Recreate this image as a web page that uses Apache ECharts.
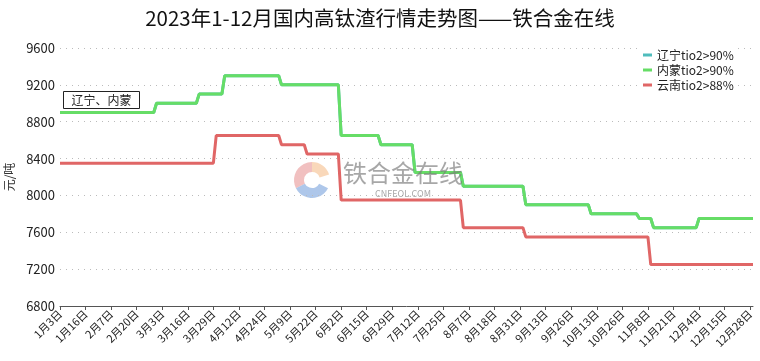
<!DOCTYPE html>
<html><head><meta charset="utf-8">
<script src="https://cdn.jsdelivr.net/npm/echarts@6/dist/echarts.min.js"></script>
<style>html,body{margin:0;padding:0;background:#fff}#c{width:760px;height:361px}</style>
</head><body><div id="c"></div>
<script>
const titleText = "2023年1-12月国内高钛渣行情走势图——铁合金在线";
const seriesNames = ["辽宁tio2>90%", "内蒙tio2>90%", "云南tio2>88%"];
const yTicks = [6800, 7200, 7600, 8000, 8400, 8800, 9200, 9600];
const dateRows = [
"1/3 1/4 1/5 1/6 1/9 1/10 1/11 1/12 1/13",
"1/16 1/17 1/18 1/19 1/20 1/31 2/1 2/2 2/3",
"2/7 2/8 2/9 2/10 2/13 2/14 2/15 2/16 2/17",
"2/20 2/21 2/22 2/23 2/24 2/27 2/28 3/1 3/2",
"3/3 3/6 3/7 3/8 3/9 3/10 3/13 3/14 3/15",
"3/16 3/17 3/20 3/21 3/22 3/23 3/24 3/27 3/28",
"3/29 3/30 3/31 4/3 4/4 4/6 4/7 4/10 4/11",
"4/12 4/13 4/14 4/17 4/18 4/19 4/20 4/21 4/23",
"4/24 4/25 4/26 4/27 4/28 5/4 5/5 5/6 5/8",
"5/9 5/10 5/11 5/12 5/15 5/16 5/17 5/18 5/19",
"5/22 5/23 5/24 5/25 5/26 5/29 5/30 5/31 6/1",
"6/2 6/5 6/6 6/7 6/8 6/9 6/12 6/13 6/14",
"6/15 6/16 6/19 6/20 6/21 6/25 6/26 6/27 6/28",
"6/29 6/30 7/3 7/4 7/5 7/6 7/7 7/10 7/11",
"7/12 7/13 7/14 7/17 7/18 7/19 7/20 7/21 7/24",
"7/25 7/26 7/27 7/28 7/31 8/1 8/2 8/3 8/4",
"8/7 8/8 8/9 8/10 8/11 8/14 8/15 8/16 8/17",
"8/18 8/21 8/22 8/23 8/24 8/25 8/28 8/29 8/30",
"8/31 9/1 9/4 9/5 9/6 9/7 9/8 9/11 9/12",
"9/13 9/14 9/15 9/18 9/19 9/20 9/21 9/22 9/25",
"9/26 9/27 9/28 10/7 10/8 10/9 10/10 10/11 10/12",
"10/13 10/16 10/17 10/18 10/19 10/20 10/23 10/24 10/25",
"10/26 10/27 10/30 10/31 11/1 11/2 11/3 11/6 11/7",
"11/8 11/9 11/10 11/13 11/14 11/15 11/16 11/17 11/20",
"11/21 11/22 11/23 11/24 11/27 11/28 11/29 11/30 12/1",
"12/4 12/5 12/6 12/7 12/8 12/11 12/12 12/13 12/14",
"12/15 12/18 12/19 12/20 12/21 12/22 12/25 12/26 12/27",
"12/28 12/29"
];
const liaoningValues = [
8900,8900,8900,8900,8900,8900,8900,8900,8900,
8900,8900,8900,8900,8900,8900,8900,8900,8900,
8900,8900,8900,8900,8900,8900,8900,8900,8900,
8900,8900,8900,8900,8900,8900,8900,9000,9000,
9000,9000,9000,9000,9000,9000,9000,9000,9000,
9000,9000,9000,9000,9100,9100,9100,9100,9100,
9100,9100,9100,9100,9300,9300,9300,9300,9300,
9300,9300,9300,9300,9300,9300,9300,9300,9300,
9300,9300,9300,9300,9300,9300,9200,9200,9200,
9200,9200,9200,9200,9200,9200,9200,9200,9200,
9200,9200,9200,9200,9200,9200,9200,9200,9200,
8650,8650,8650,8650,8650,8650,8650,8650,8650,
8650,8650,8650,8650,8650,8550,8550,8550,8550,
8550,8550,8550,8550,8550,8550,8550,8550,8250,
8250,8250,8250,8250,8250,8250,8250,8250,8250,
8250,8250,8250,8250,8250,8250,8250,8100,8100,
8100,8100,8100,8100,8100,8100,8100,8100,8100,
8100,8100,8100,8100,8100,8100,8100,8100,8100,
8100,8100,7900,7900,7900,7900,7900,7900,7900,
7900,7900,7900,7900,7900,7900,7900,7900,7900,
7900,7900,7900,7900,7900,7900,7900,7800,7800,
7800,7800,7800,7800,7800,7800,7800,7800,7800,
7800,7800,7800,7800,7800,7800,7750,7750,7750,
7750,7750,7650,7650,7650,7650,7650,7650,7650,
7650,7650,7650,7650,7650,7650,7650,7650,7650,
7750,7750,7750,7750,7750,7750,7750,7750,7750,
7750,7750,7750,7750,7750,7750,7750,7750,7750,
7750,7750
];
const neimengValues = [
8900,8900,8900,8900,8900,8900,8900,8900,8900,
8900,8900,8900,8900,8900,8900,8900,8900,8900,
8900,8900,8900,8900,8900,8900,8900,8900,8900,
8900,8900,8900,8900,8900,8900,8900,9000,9000,
9000,9000,9000,9000,9000,9000,9000,9000,9000,
9000,9000,9000,9000,9100,9100,9100,9100,9100,
9100,9100,9100,9100,9300,9300,9300,9300,9300,
9300,9300,9300,9300,9300,9300,9300,9300,9300,
9300,9300,9300,9300,9300,9300,9200,9200,9200,
9200,9200,9200,9200,9200,9200,9200,9200,9200,
9200,9200,9200,9200,9200,9200,9200,9200,9200,
8650,8650,8650,8650,8650,8650,8650,8650,8650,
8650,8650,8650,8650,8650,8550,8550,8550,8550,
8550,8550,8550,8550,8550,8550,8550,8550,8250,
8250,8250,8250,8250,8250,8250,8250,8250,8250,
8250,8250,8250,8250,8250,8250,8250,8100,8100,
8100,8100,8100,8100,8100,8100,8100,8100,8100,
8100,8100,8100,8100,8100,8100,8100,8100,8100,
8100,8100,7900,7900,7900,7900,7900,7900,7900,
7900,7900,7900,7900,7900,7900,7900,7900,7900,
7900,7900,7900,7900,7900,7900,7900,7800,7800,
7800,7800,7800,7800,7800,7800,7800,7800,7800,
7800,7800,7800,7800,7800,7800,7750,7750,7750,
7750,7750,7650,7650,7650,7650,7650,7650,7650,
7650,7650,7650,7650,7650,7650,7650,7650,7650,
7750,7750,7750,7750,7750,7750,7750,7750,7750,
7750,7750,7750,7750,7750,7750,7750,7750,7750,
7750,7750
];
const yunnanValues = [
8350,8350,8350,8350,8350,8350,8350,8350,8350,
8350,8350,8350,8350,8350,8350,8350,8350,8350,
8350,8350,8350,8350,8350,8350,8350,8350,8350,
8350,8350,8350,8350,8350,8350,8350,8350,8350,
8350,8350,8350,8350,8350,8350,8350,8350,8350,
8350,8350,8350,8350,8350,8350,8350,8350,8350,
8350,8650,8650,8650,8650,8650,8650,8650,8650,
8650,8650,8650,8650,8650,8650,8650,8650,8650,
8650,8650,8650,8650,8650,8650,8550,8550,8550,
8550,8550,8550,8550,8550,8550,8450,8450,8450,
8450,8450,8450,8450,8450,8450,8450,8450,8450,
7950,7950,7950,7950,7950,7950,7950,7950,7950,
7950,7950,7950,7950,7950,7950,7950,7950,7950,
7950,7950,7950,7950,7950,7950,7950,7950,7950,
7950,7950,7950,7950,7950,7950,7950,7950,7950,
7950,7950,7950,7950,7950,7950,7950,7650,7650,
7650,7650,7650,7650,7650,7650,7650,7650,7650,
7650,7650,7650,7650,7650,7650,7650,7650,7650,
7650,7650,7550,7550,7550,7550,7550,7550,7550,
7550,7550,7550,7550,7550,7550,7550,7550,7550,
7550,7550,7550,7550,7550,7550,7550,7550,7550,
7550,7550,7550,7550,7550,7550,7550,7550,7550,
7550,7550,7550,7550,7550,7550,7550,7550,7550,
7550,7250,7250,7250,7250,7250,7250,7250,7250,
7250,7250,7250,7250,7250,7250,7250,7250,7250,
7250,7250,7250,7250,7250,7250,7250,7250,7250,
7250,7250,7250,7250,7250,7250,7250,7250,7250,
7250,7250
];
const categories = dateRows.join(' ').split(' ').map(s => { const p = s.split('/'); return p[0] + '月' + p[1] + '日'; });
const colors = ['#4fbcbc', '#66dd66', '#e06666'];
const FONT = '"Noto Sans CJK SC", "Noto Sans", sans-serif';

const chart = echarts.init(document.getElementById('c'), null, {renderer: 'canvas'});
chart.setOption({
  animation: false,
  backgroundColor: '#fff',
  textStyle: {fontFamily: FONT},
  title: {
    text: titleText, left: 'center', top: 3,
    textStyle: {fontSize: 20.5, fontWeight: 'normal', color: '#111', fontFamily: FONT}
  },
  color: colors,
  legend: {
    data: seriesNames, orient: 'vertical', left: 639, top: 47,
    icon: 'rect', itemWidth: 9, itemHeight: 3, itemGap: 3,
    backgroundColor: '#fff', padding: [2, 4],
    textStyle: {fontSize: 12, color: '#222', fontFamily: FONT}
  },
  grid: {left: 60, right: 7, top: 48, bottom: 55, containLabel: false, outerBoundsMode: 'none'},
  xAxis: {
    type: 'category', data: categories, boundaryGap: false,
    axisLine: {lineStyle: {color: '#555', width: 1}},
    axisTick: {interval: 8, length: 4, lineStyle: {color: '#555'}},
    axisLabel: {interval: 8, rotate: 45, fontSize: 11, color: '#222', margin: 6, fontFamily: FONT},
    splitLine: {show: false}
  },
  yAxis: {
    type: 'value', min: yTicks[0], max: yTicks[yTicks.length - 1], interval: 400,
    name: '元/吨', nameLocation: 'middle', nameRotate: 90, nameGap: 42,
    nameTextStyle: {fontSize: 12, color: '#333', fontFamily: FONT},
    axisLine: {show: false}, axisTick: {show: false},
    axisLabel: {fontSize: 13, color: '#222', margin: 5, fontFamily: FONT, formatter: v => String(v)},
    splitLine: {lineStyle: {color: '#bbb', type: [1, 5], width: 1.2}}
  },
  series: [
    {name: seriesNames[0], type: 'line', data: liaoningValues, showSymbol: false, symbol: 'none', lineStyle: {width: 3, color: colors[0]}, z: 2},
    {name: seriesNames[1], type: 'line', data: neimengValues, showSymbol: false, symbol: 'none', lineStyle: {width: 3, color: colors[1]}, z: 3},
    {name: seriesNames[2], type: 'line', data: yunnanValues, showSymbol: false, symbol: 'none', lineStyle: {width: 3, color: colors[2]}, z: 3}
  ],
  graphic: [
    {type: 'group', left: 63, top: 91, z: 10, children: [
      {type: 'rect', shape: {x: 0, y: 0, width: 76, height: 17}, style: {fill: '#fff', stroke: '#222', lineWidth: 1}},
      {type: 'text', x: 38, y: 8.5, style: {text: '辽宁、内蒙', fontSize: 12, fill: '#222', align: 'center', verticalAlign: 'middle', fontFamily: FONT}}
    ]},
    {type: 'group', left: 294, top: 162, z: 20, children: [
      {type: 'sector', shape: {cx: 18, cy: 18, r: 18, r0: 8, startAngle: Math.PI * 0.85, endAngle: Math.PI * 1.5}, style: {fill: 'rgba(232,150,150,0.6)'}},
      {type: 'sector', shape: {cx: 18, cy: 18, r: 18, r0: 8, startAngle: Math.PI * 1.5, endAngle: Math.PI * 1.9}, style: {fill: 'rgba(245,190,140,0.6)'}},
      {type: 'sector', shape: {cx: 18, cy: 18, r: 18, r0: 8, startAngle: Math.PI * 0.15, endAngle: Math.PI * 0.85}, style: {fill: 'rgba(140,175,225,0.7)'}}
    ]},
    {type: 'text', left: 343, top: 161, z: 20, style: {text: '铁合金在线', fontSize: 24, fill: 'rgba(120,120,120,0.65)', fontFamily: FONT}},
    {type: 'text', left: 375, top: 189, z: 20, style: {text: 'CNFEOL.COM', fontSize: 9, fill: 'rgba(120,120,120,0.65)', fontFamily: FONT}}
  ]
});
</script></body></html>
